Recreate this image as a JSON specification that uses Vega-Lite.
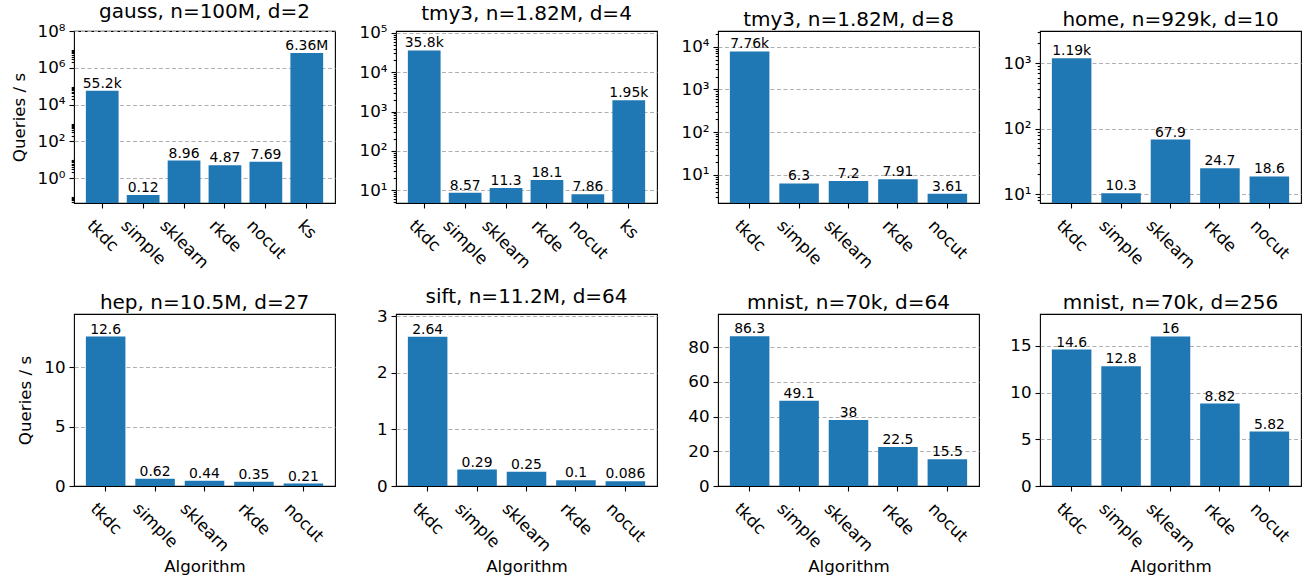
{
  "$schema": "https://vega.github.io/schema/vega-lite/v6.json",
  "padding": {"left": 10, "top": 1, "right": 0, "bottom": 0},
  "background": "white",
  "data": {"values": [
    {"panel": "gauss", "alg": "tkdc", "qps": 55200, "label": "55.2k"},
    {"panel": "gauss", "alg": "simple", "qps": 0.12, "label": "0.12"},
    {"panel": "gauss", "alg": "sklearn", "qps": 8.96, "label": "8.96"},
    {"panel": "gauss", "alg": "rkde", "qps": 4.87, "label": "4.87"},
    {"panel": "gauss", "alg": "nocut", "qps": 7.69, "label": "7.69"},
    {"panel": "gauss", "alg": "ks", "qps": 6360000, "label": "6.36M"},
    {"panel": "tmy3_4", "alg": "tkdc", "qps": 35800, "label": "35.8k"},
    {"panel": "tmy3_4", "alg": "simple", "qps": 8.57, "label": "8.57"},
    {"panel": "tmy3_4", "alg": "sklearn", "qps": 11.3, "label": "11.3"},
    {"panel": "tmy3_4", "alg": "rkde", "qps": 18.1, "label": "18.1"},
    {"panel": "tmy3_4", "alg": "nocut", "qps": 7.86, "label": "7.86"},
    {"panel": "tmy3_4", "alg": "ks", "qps": 1950, "label": "1.95k"},
    {"panel": "tmy3_8", "alg": "tkdc", "qps": 7760, "label": "7.76k"},
    {"panel": "tmy3_8", "alg": "simple", "qps": 6.3, "label": "6.3"},
    {"panel": "tmy3_8", "alg": "sklearn", "qps": 7.2, "label": "7.2"},
    {"panel": "tmy3_8", "alg": "rkde", "qps": 7.91, "label": "7.91"},
    {"panel": "tmy3_8", "alg": "nocut", "qps": 3.61, "label": "3.61"},
    {"panel": "home", "alg": "tkdc", "qps": 1190, "label": "1.19k"},
    {"panel": "home", "alg": "simple", "qps": 10.3, "label": "10.3"},
    {"panel": "home", "alg": "sklearn", "qps": 67.9, "label": "67.9"},
    {"panel": "home", "alg": "rkde", "qps": 24.7, "label": "24.7"},
    {"panel": "home", "alg": "nocut", "qps": 18.6, "label": "18.6"},
    {"panel": "hep", "alg": "tkdc", "qps": 12.6, "label": "12.6"},
    {"panel": "hep", "alg": "simple", "qps": 0.62, "label": "0.62"},
    {"panel": "hep", "alg": "sklearn", "qps": 0.44, "label": "0.44"},
    {"panel": "hep", "alg": "rkde", "qps": 0.35, "label": "0.35"},
    {"panel": "hep", "alg": "nocut", "qps": 0.21, "label": "0.21"},
    {"panel": "sift", "alg": "tkdc", "qps": 2.64, "label": "2.64"},
    {"panel": "sift", "alg": "simple", "qps": 0.29, "label": "0.29"},
    {"panel": "sift", "alg": "sklearn", "qps": 0.25, "label": "0.25"},
    {"panel": "sift", "alg": "rkde", "qps": 0.1, "label": "0.1"},
    {"panel": "sift", "alg": "nocut", "qps": 0.086, "label": "0.086"},
    {"panel": "mnist_64", "alg": "tkdc", "qps": 86.3, "label": "86.3"},
    {"panel": "mnist_64", "alg": "simple", "qps": 49.1, "label": "49.1"},
    {"panel": "mnist_64", "alg": "sklearn", "qps": 38, "label": "38"},
    {"panel": "mnist_64", "alg": "rkde", "qps": 22.5, "label": "22.5"},
    {"panel": "mnist_64", "alg": "nocut", "qps": 15.5, "label": "15.5"},
    {"panel": "mnist_256", "alg": "tkdc", "qps": 14.6, "label": "14.6"},
    {"panel": "mnist_256", "alg": "simple", "qps": 12.8, "label": "12.8"},
    {"panel": "mnist_256", "alg": "sklearn", "qps": 16, "label": "16"},
    {"panel": "mnist_256", "alg": "rkde", "qps": 8.82, "label": "8.82"},
    {"panel": "mnist_256", "alg": "nocut", "qps": 5.82, "label": "5.82"}
  ]},
  "columns": 4,
  "spacing": {"row": 111, "column": 61},
  "bounds": "flush",
  "concat": [
    {
      "title": "gauss, n=100M, d=2",
      "width": 261, "height": 172,
      "transform": [{"filter": "datum.panel === 'gauss'"}],
      "resolve": {"axis": {"y": "independent"}},
      "encoding": {"x": {"field": "alg", "type": "nominal", "sort": null, "scale": {"paddingInner": 0.2, "paddingOuter": 0.29},
        "axis": {"title": null, "labelOffset": {"condition": [{"test": "datum.value === 'tkdc'", "value": -6.8}, {"test": "datum.value === 'simple'", "value": -13.6}, {"test": "datum.value === 'sklearn'", "value": -15.7}, {"test": "datum.value === 'rkde'", "value": -7.3}, {"test": "datum.value === 'nocut'", "value": -10.7}], "value": -0.6}}}},
      "layer": [
        {"mark": {"type": "bar", "color": "#1f77b4"},
         "encoding": {"y": {"field": "qps", "type": "quantitative", "scale": {"type": "log", "domain": [0.0436, 100000000], "nice": false},
           "axis": {"title": "Queries / s", "values": [1, 100, 10000, 1000000, 100000000], "labelExpr": "'10' + ['⁰','¹','²','³','⁴','⁵','⁶','⁷','⁸','⁹'][round(log(datum.value)/LN10)]"}},
           "y2": {"datum": 0.0436}}},
        {"mark": {"type": "text", "baseline": "bottom"},
         "encoding": {"y": {"field": "qps", "type": "quantitative", "scale": {"type": "log", "domain": [0.0436, 100000000], "nice": false}, "axis": null}, "text": {"field": "label"}}},
        {"mark": {"type": "point", "opacity": 0},
         "encoding": {"y": {"field": "qps", "type": "quantitative", "scale": {"type": "log", "domain": [0.0436, 100000000], "nice": false},
           "axis": {"orient": "left", "title": null, "labels": false, "grid": false, "domain": false, "tickSize": 2.8, "values": [0.05,0.06,0.07,0.08,0.09,2,3,4,5,6,7,8,9,200,300,400,500,600,700,800,900,20000,30000,40000,50000,60000,70000,80000,90000,2000000,3000000,4000000,5000000,6000000,7000000,8000000,9000000]}}}}
      ]
    },
    {
      "title": "tmy3, n=1.82M, d=4",
      "width": 261, "height": 172,
      "transform": [{"filter": "datum.panel === 'tmy3_4'"}],
      "resolve": {"axis": {"y": "independent"}},
      "encoding": {"x": {"field": "alg", "type": "nominal", "sort": null, "scale": {"paddingInner": 0.2, "paddingOuter": 0.29},
        "axis": {"title": null, "labelOffset": {"condition": [{"test": "datum.value === 'tkdc'", "value": -6.8}, {"test": "datum.value === 'simple'", "value": -13.6}, {"test": "datum.value === 'sklearn'", "value": -15.7}, {"test": "datum.value === 'rkde'", "value": -7.3}, {"test": "datum.value === 'nocut'", "value": -10.7}], "value": -0.6}}}},
      "layer": [
        {"mark": {"type": "bar", "color": "#1f77b4"},
         "encoding": {"y": {"field": "qps", "type": "quantitative", "scale": {"type": "log", "domain": [4.7, 112000], "nice": false},
           "axis": {"title": null, "values": [10, 100, 1000, 10000, 100000], "labelExpr": "'10' + ['⁰','¹','²','³','⁴','⁵','⁶','⁷','⁸','⁹'][round(log(datum.value)/LN10)]"}},
           "y2": {"datum": 4.7}}},
        {"mark": {"type": "text", "baseline": "bottom"},
         "encoding": {"y": {"field": "qps", "type": "quantitative", "scale": {"type": "log", "domain": [4.7, 112000], "nice": false}, "axis": null}, "text": {"field": "label"}}},
        {"mark": {"type": "point", "opacity": 0},
         "encoding": {"y": {"field": "qps", "type": "quantitative", "scale": {"type": "log", "domain": [4.7, 112000], "nice": false},
           "axis": {"orient": "left", "title": null, "labels": false, "grid": false, "domain": false, "tickSize": 2.8, "values": [5,6,7,8,9,20,30,40,50,60,70,80,90,200,300,400,500,600,700,800,900,2000,3000,4000,5000,6000,7000,8000,9000,20000,30000,40000,50000,60000,70000,80000,90000]}}}}
      ]
    },
    {
      "title": "tmy3, n=1.82M, d=8",
      "width": 261, "height": 172,
      "transform": [{"filter": "datum.panel === 'tmy3_8'"}],
      "resolve": {"axis": {"y": "independent"}},
      "encoding": {"x": {"field": "alg", "type": "nominal", "sort": null, "scale": {"paddingInner": 0.2, "paddingOuter": 0.24},
        "axis": {"title": null, "labelOffset": {"condition": [{"test": "datum.value === 'tkdc'", "value": -6.8}, {"test": "datum.value === 'simple'", "value": -13.6}, {"test": "datum.value === 'sklearn'", "value": -15.7}, {"test": "datum.value === 'rkde'", "value": -7.3}, {"test": "datum.value === 'nocut'", "value": -10.7}], "value": -0.6}}}},
      "layer": [
        {"mark": {"type": "bar", "color": "#1f77b4"},
         "encoding": {"y": {"field": "qps", "type": "quantitative", "scale": {"type": "log", "domain": [2.2, 23300], "nice": false},
           "axis": {"title": null, "values": [10, 100, 1000, 10000], "labelExpr": "'10' + ['⁰','¹','²','³','⁴','⁵','⁶','⁷','⁸','⁹'][round(log(datum.value)/LN10)]"}},
           "y2": {"datum": 2.2}}},
        {"mark": {"type": "text", "baseline": "bottom"},
         "encoding": {"y": {"field": "qps", "type": "quantitative", "scale": {"type": "log", "domain": [2.2, 23300], "nice": false}, "axis": null}, "text": {"field": "label"}}},
        {"mark": {"type": "point", "opacity": 0},
         "encoding": {"y": {"field": "qps", "type": "quantitative", "scale": {"type": "log", "domain": [2.2, 23300], "nice": false},
           "axis": {"orient": "left", "title": null, "labels": false, "grid": false, "domain": false, "tickSize": 2.8, "values": [3,4,5,6,7,8,9,20,30,40,50,60,70,80,90,200,300,400,500,600,700,800,900,2000,3000,4000,5000,6000,7000,8000,9000,20000]}}}}
      ]
    },
    {
      "title": "home, n=929k, d=10",
      "width": 261, "height": 172,
      "transform": [{"filter": "datum.panel === 'home'"}],
      "resolve": {"axis": {"y": "independent"}},
      "encoding": {"x": {"field": "alg", "type": "nominal", "sort": null, "scale": {"paddingInner": 0.2, "paddingOuter": 0.24},
        "axis": {"title": null, "labelOffset": {"condition": [{"test": "datum.value === 'tkdc'", "value": -6.8}, {"test": "datum.value === 'simple'", "value": -13.6}, {"test": "datum.value === 'sklearn'", "value": -15.7}, {"test": "datum.value === 'rkde'", "value": -7.3}, {"test": "datum.value === 'nocut'", "value": -10.7}], "value": -0.6}}}},
      "layer": [
        {"mark": {"type": "bar", "color": "#1f77b4"},
         "encoding": {"y": {"field": "qps", "type": "quantitative", "scale": {"type": "log", "domain": [7.3, 3090], "nice": false},
           "axis": {"title": null, "values": [10, 100, 1000], "labelExpr": "'10' + ['⁰','¹','²','³','⁴','⁵','⁶','⁷','⁸','⁹'][round(log(datum.value)/LN10)]"}},
           "y2": {"datum": 7.3}}},
        {"mark": {"type": "text", "baseline": "bottom"},
         "encoding": {"y": {"field": "qps", "type": "quantitative", "scale": {"type": "log", "domain": [7.3, 3090], "nice": false}, "axis": null}, "text": {"field": "label"}}},
        {"mark": {"type": "point", "opacity": 0},
         "encoding": {"y": {"field": "qps", "type": "quantitative", "scale": {"type": "log", "domain": [7.3, 3090], "nice": false},
           "axis": {"orient": "left", "title": null, "labels": false, "grid": false, "domain": false, "tickSize": 2.8, "values": [8,9,20,30,40,50,60,70,80,90,200,300,400,500,600,700,800,900,2000,3000]}}}}
      ]
    },
    {
      "title": "hep, n=10.5M, d=27",
      "width": 261, "height": 172,
      "transform": [{"filter": "datum.panel === 'hep'"}],
      "encoding": {
        "x": {"field": "alg", "type": "nominal", "sort": null, "scale": {"paddingInner": 0.2, "paddingOuter": 0.24},
          "axis": {"title": "Algorithm", "labelOffset": {"condition": [{"test": "datum.value === 'tkdc'", "value": -6.8}, {"test": "datum.value === 'simple'", "value": -13.6}, {"test": "datum.value === 'sklearn'", "value": -15.7}, {"test": "datum.value === 'rkde'", "value": -7.3}, {"test": "datum.value === 'nocut'", "value": -10.7}], "value": -0.6}}},
        "y": {"field": "qps", "type": "quantitative", "scale": {"domain": [0, 14.5], "nice": false}, "axis": {"title": "Queries / s", "values": [0, 5, 10], "gridOpacity": {"condition": {"test": "datum.value === 0", "value": 0}, "value": 1}}}
      },
      "layer": [
        {"mark": {"type": "bar", "color": "#1f77b4"}},
        {"mark": {"type": "text", "baseline": "bottom"}, "encoding": {"text": {"field": "label"}}}
      ]
    },
    {
      "title": "sift, n=11.2M, d=64",
      "width": 261, "height": 172,
      "transform": [{"filter": "datum.panel === 'sift'"}],
      "encoding": {
        "x": {"field": "alg", "type": "nominal", "sort": null, "scale": {"paddingInner": 0.2, "paddingOuter": 0.24},
          "axis": {"title": "Algorithm", "labelOffset": {"condition": [{"test": "datum.value === 'tkdc'", "value": -6.8}, {"test": "datum.value === 'simple'", "value": -13.6}, {"test": "datum.value === 'sklearn'", "value": -15.7}, {"test": "datum.value === 'rkde'", "value": -7.3}, {"test": "datum.value === 'nocut'", "value": -10.7}], "value": -0.6}}},
        "y": {"field": "qps", "type": "quantitative", "scale": {"domain": [0, 3.04], "nice": false}, "axis": {"title": null, "values": [0, 1, 2, 3], "gridOpacity": {"condition": {"test": "datum.value === 0", "value": 0}, "value": 1}}}
      },
      "layer": [
        {"mark": {"type": "bar", "color": "#1f77b4"}},
        {"mark": {"type": "text", "baseline": "bottom"}, "encoding": {"text": {"field": "label"}}}
      ]
    },
    {
      "title": "mnist, n=70k, d=64",
      "width": 261, "height": 172,
      "transform": [{"filter": "datum.panel === 'mnist_64'"}],
      "encoding": {
        "x": {"field": "alg", "type": "nominal", "sort": null, "scale": {"paddingInner": 0.2, "paddingOuter": 0.24},
          "axis": {"title": "Algorithm", "labelOffset": {"condition": [{"test": "datum.value === 'tkdc'", "value": -6.8}, {"test": "datum.value === 'simple'", "value": -13.6}, {"test": "datum.value === 'sklearn'", "value": -15.7}, {"test": "datum.value === 'rkde'", "value": -7.3}, {"test": "datum.value === 'nocut'", "value": -10.7}], "value": -0.6}}},
        "y": {"field": "qps", "type": "quantitative", "scale": {"domain": [0, 99.2], "nice": false}, "axis": {"title": null, "values": [0, 20, 40, 60, 80, 100], "gridOpacity": {"condition": {"test": "datum.value === 0", "value": 0}, "value": 1}}}
      },
      "layer": [
        {"mark": {"type": "bar", "color": "#1f77b4"}},
        {"mark": {"type": "text", "baseline": "bottom"}, "encoding": {"text": {"field": "label"}}}
      ]
    },
    {
      "title": "mnist, n=70k, d=256",
      "width": 261, "height": 172,
      "transform": [{"filter": "datum.panel === 'mnist_256'"}],
      "encoding": {
        "x": {"field": "alg", "type": "nominal", "sort": null, "scale": {"paddingInner": 0.2, "paddingOuter": 0.24},
          "axis": {"title": "Algorithm", "labelOffset": {"condition": [{"test": "datum.value === 'tkdc'", "value": -6.8}, {"test": "datum.value === 'simple'", "value": -13.6}, {"test": "datum.value === 'sklearn'", "value": -15.7}, {"test": "datum.value === 'rkde'", "value": -7.3}, {"test": "datum.value === 'nocut'", "value": -10.7}], "value": -0.6}}},
        "y": {"field": "qps", "type": "quantitative", "scale": {"domain": [0, 18.4], "nice": false}, "axis": {"title": null, "values": [0, 5, 10, 15], "gridOpacity": {"condition": {"test": "datum.value === 0", "value": 0}, "value": 1}}}
      },
      "layer": [
        {"mark": {"type": "bar", "color": "#1f77b4"}},
        {"mark": {"type": "text", "baseline": "bottom"}, "encoding": {"text": {"field": "label"}}}
      ]
    }
  ],
  "config": {
    "font": "DejaVu Sans",
    "view": {"stroke": "#000000", "strokeWidth": 1.1},
    "title": {"font": "DejaVu Sans", "fontSize": 20, "fontWeight": "normal", "color": "#000000", "offset": 1, "baseline": "alphabetic", "frame": "group", "anchor": "middle"},
    "axis": {"labelFont": "DejaVu Sans", "titleFont": "DejaVu Sans", "labelFontSize": 16.7, "titleFontSize": 16.7, "titleFontWeight": "normal", "labelColor": "#000000", "titleColor": "#000000", "tickColor": "#000000", "tickWidth": 1.1, "domain": false, "tickSize": 5, "labelPadding": 4, "labelOverlap": false},
    "axisY": {"grid": true, "gridColor": "#b0b0b0", "gridDash": [4, 2.5], "gridWidth": 1.1, "titlePadding": 9},
    "axisX": {"grid": false, "titlePadding": 4, "labelAngle": 45, "labelAlign": "left", "labelBaseline": "top", "labelPadding": 9},
    "text": {"font": "DejaVu Sans", "fontSize": 13.9, "color": "#000000"}
  }
}
